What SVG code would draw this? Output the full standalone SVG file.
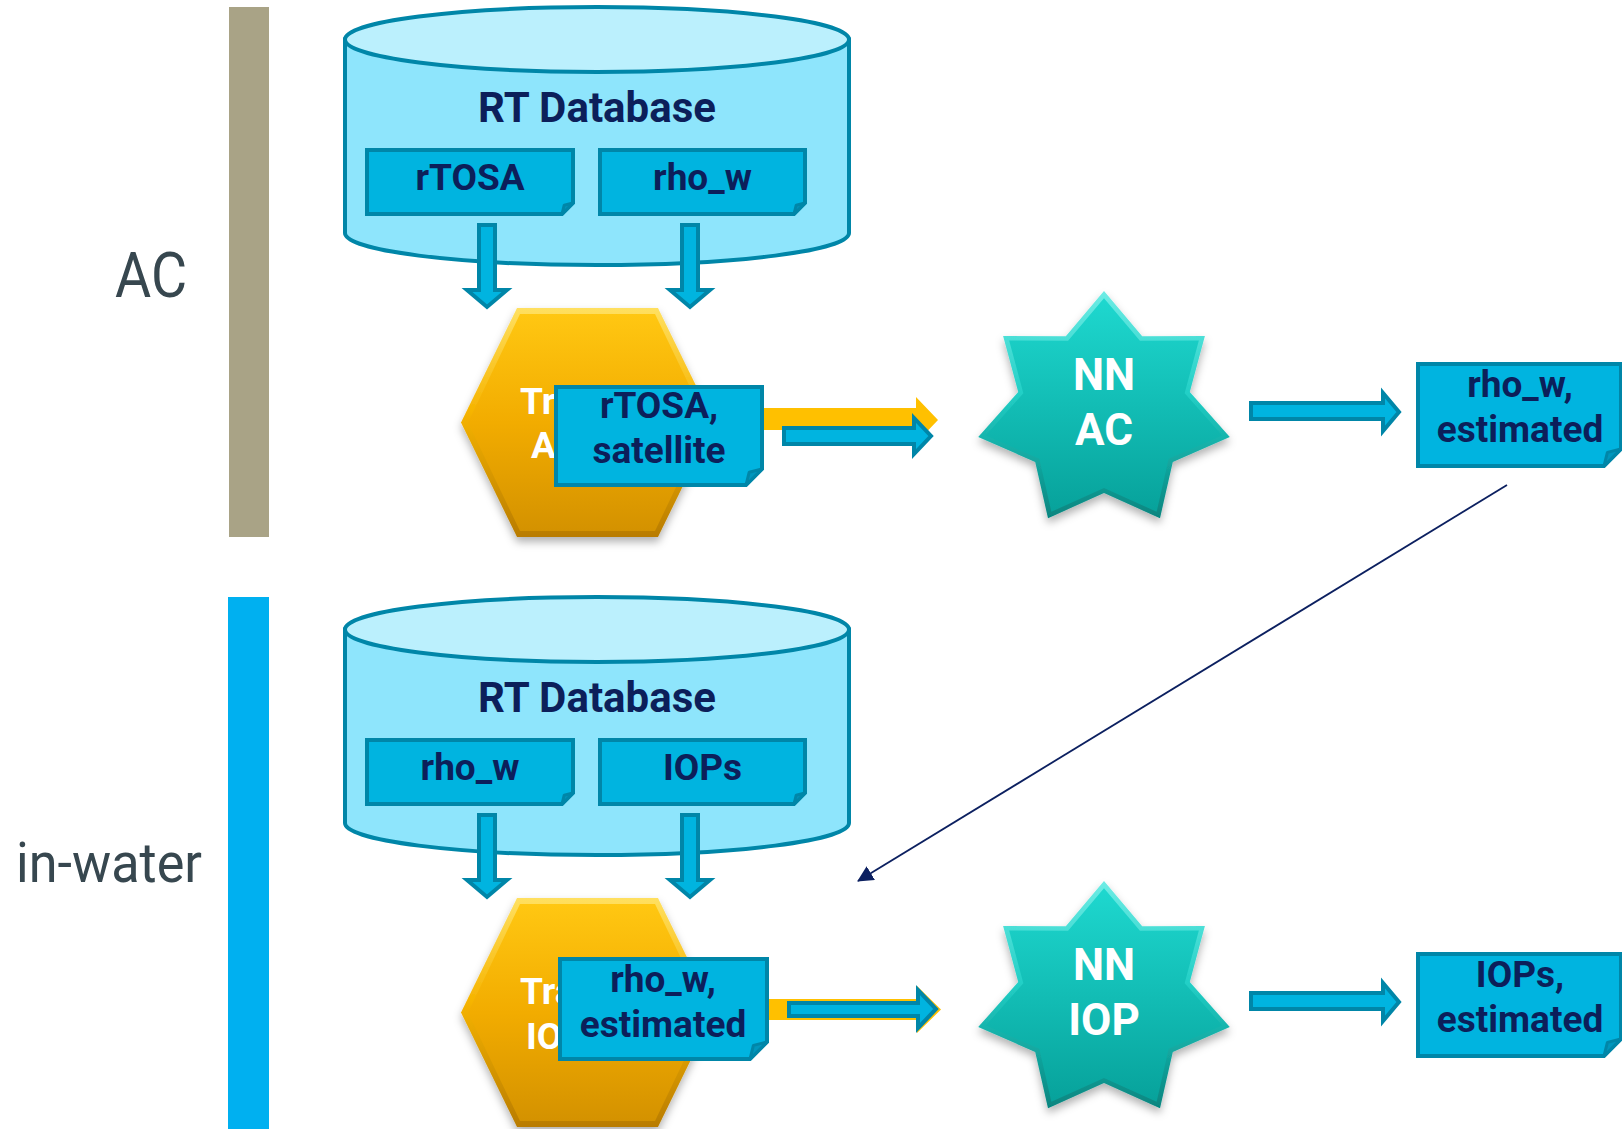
<svg xmlns="http://www.w3.org/2000/svg" width="1622" height="1129" viewBox="0 0 1622 1129">
  <defs>
    <style>
      .cyl-body { fill: #8ee5fc; stroke: #0086a8; stroke-width: 4; }
      .cyl-top { fill: #bbf0fd; stroke: #0086a8; stroke-width: 4; }
      .box { fill: #00b4e0; stroke: #0086a8; stroke-width: 4; stroke-linejoin: miter; }
      .fold { fill: #0096bd; stroke: #0086a8; stroke-width: 3; stroke-linejoin: round; }
      .barrow { fill: #00b4e0; stroke: #0086a8; stroke-width: 4; stroke-linejoin: miter; }
      .yarrow { fill: #ffc000; }
      .lbl { font-family: Roboto, "Liberation Sans", sans-serif; font-weight: bold; fill: #0c1f5a; text-anchor: middle; }
      .db-title { font-size: 42px; }
      .item { font-size: 37px; }
      .white { font-family: Roboto, "Liberation Sans", sans-serif; font-weight: bold; fill: #ffffff; }
      .hex-txt { font-size: 37px; }
      .star-txt { font-size: 44px; text-anchor: middle; }
      .lane { font-family: Roboto, "Liberation Sans", sans-serif; fill: #37474f; }
      .link { stroke: #0c2060; stroke-width: 1.8; fill: none; }
    </style>
    <linearGradient id="hexGrad" x1="0" y1="0" x2="0" y2="1">
      <stop offset="0" stop-color="#ffc712"/>
      <stop offset="0.5" stop-color="#f2ac00"/>
      <stop offset="1" stop-color="#d49200"/>
    </linearGradient>
    <linearGradient id="hexEdge" x1="0" y1="0" x2="0" y2="1">
      <stop offset="0" stop-color="#ffe060"/>
      <stop offset="0.45" stop-color="#f6b400"/>
      <stop offset="1" stop-color="#b97c00"/>
    </linearGradient>
    <linearGradient id="starGrad" x1="0" y1="0" x2="0" y2="1">
      <stop offset="0" stop-color="#1ed8cf"/>
      <stop offset="1" stop-color="#07a29b"/>
    </linearGradient>
    <linearGradient id="starEdge" x1="0" y1="0" x2="0" y2="1">
      <stop offset="0" stop-color="#6eece5"/>
      <stop offset="0.45" stop-color="#22cfc6"/>
      <stop offset="1" stop-color="#06857f"/>
    </linearGradient>
    <filter id="shadow" x="-20%" y="-20%" width="140%" height="150%">
      <feDropShadow dx="0" dy="5" stdDeviation="4" flood-color="#000000" flood-opacity="0.3"/>
    </filter>
    <polygon id="star7" points="0,-119.5 38.2,-74.3 100.9,-74.5 85.8,-18.4 125.8,26.6 68.8,51.4 56,107.7 0,82.5 -56,107.7 -68.8,51.4 -125.8,26.6 -85.8,-18.4 -100.9,-74.5 -38.2,-74.3"/>
    <marker id="head" viewBox="0 0 16 16" refX="15" refY="8" markerWidth="16" markerHeight="16" markerUnits="userSpaceOnUse" orient="auto">
      <path d="M0,0 L16,8 L0,16 Z" fill="#0c2060"/>
    </marker>
  </defs>

  <rect width="1622" height="1129" fill="#ffffff"/>

  <!-- lane markers -->
  <g id="lane-ac">
    <rect x="229" y="7" width="40" height="530" fill="#a9a386"/>
    <text class="lane" x="115" y="297" font-size="63" textLength="72" lengthAdjust="spacingAndGlyphs">AC</text>
  </g>
  <g id="lane-inwater">
    <rect x="228" y="597" width="41" height="532" fill="#00b0f0"/>
    <text class="lane" x="16" y="882" font-size="56" textLength="186" lengthAdjust="spacingAndGlyphs">in-water</text>
  </g>

  <!-- RT database, atmospheric correction -->
  <g id="db-ac">
    <path class="cyl-body" d="M345,39.5 V233 A252,32 0 0 0 849,233 V39.5 Z"/>
    <ellipse class="cyl-top" cx="597" cy="39.5" rx="252" ry="32.5"/>
    <text class="lbl db-title" x="597" y="122">RT Database</text>
    <g id="db-ac-rtosa">
      <path class="box" d="M367,150 H573 V203 L562,214 H367 Z"/>
      <path class="fold" d="M562,214 L564.2,205.2 L573,203 Z"/>
      <text class="lbl item" x="470" y="190">rTOSA</text>
    </g>
    <g id="db-ac-rhow">
      <path class="box" d="M600,150 H805 V203 L794,214 H600 Z"/>
      <path class="fold" d="M794,214 L796.2,205.2 L805,203 Z"/>
      <text class="lbl item" x="702.5" y="190">rho_w</text>
    </g>
  </g>

  <!-- RT database, in-water -->
  <g id="db-iop">
    <path class="cyl-body" d="M345,629.5 V823 A252,32 0 0 0 849,823 V629.5 Z"/>
    <ellipse class="cyl-top" cx="597" cy="629.5" rx="252" ry="32.5"/>
    <text class="lbl db-title" x="597" y="712">RT Database</text>
    <g id="db-iop-rhow">
      <path class="box" d="M367,740 H573 V793 L562,804 H367 Z"/>
      <path class="fold" d="M562,804 L564.2,795.2 L573,793 Z"/>
      <text class="lbl item" x="470" y="780">rho_w</text>
    </g>
    <g id="db-iop-iops">
      <path class="box" d="M600,740 H805 V793 L794,804 H600 Z"/>
      <path class="fold" d="M794,804 L796.2,795.2 L805,793 Z"/>
      <text class="lbl item" x="702.5" y="780">IOPs</text>
    </g>
  </g>

  <!-- training steps (bevelled hexagons) -->
  <g id="train-ac">
    <polygon points="517,308 658,308 714,422.5 658,537 517,537 461,422.5" fill="url(#hexEdge)" filter="url(#shadow)"/>
    <polygon points="520,314 655,314 707,422.5 655,531 520,531 468,422.5" fill="url(#hexGrad)"/>
    <text class="white hex-txt" x="520" y="414">Tr</text>
    <text class="white hex-txt" x="531" y="458">A</text>
  </g>
  <g id="train-iop">
    <polygon points="517,898 658,898 714,1012.5 658,1127 517,1127 461,1012.5" fill="url(#hexEdge)" filter="url(#shadow)"/>
    <polygon points="520,904 655,904 707,1012.5 655,1121 520,1121 468,1012.5" fill="url(#hexGrad)"/>
    <text class="white hex-txt" x="520" y="1004">Tra</text>
    <text class="white hex-txt" x="526" y="1049">IO</text>
  </g>

  <!-- inputs fed to the trained networks -->
  <g id="in-rtosa-sat">
    <path class="box" d="M556,387 H762 V469 L746,485 H556 Z"/>
    <path class="fold" d="M746,485 L749.2,472.2 L762,469 Z"/>
    <text class="lbl item" x="659" y="418">rTOSA,</text>
    <text class="lbl item" x="659" y="463">satellite</text>
  </g>
  <g id="in-rhow-est">
    <path class="box" d="M560,959 H767 V1042 L750,1059 H560 Z"/>
    <path class="fold" d="M750,1059 L753.4,1045.4 L767,1042 Z"/>
    <text class="lbl item" x="663" y="992">rho_w,</text>
    <text class="lbl item" x="663" y="1037">estimated</text>
  </g>

  <!-- neural networks (bevelled seven-point stars) -->
  <g id="nn-ac" transform="translate(1104,410.5)">
    <use href="#star7" fill="url(#starEdge)" filter="url(#shadow)"/>
    <use href="#star7" fill="url(#starGrad)" transform="scale(0.94)"/>
    <text class="white star-txt" x="0" y="-20.5">NN</text>
    <text class="white star-txt" x="0" y="34.5">AC</text>
  </g>
  <g id="nn-iop" transform="translate(1104,1000.5)">
    <use href="#star7" fill="url(#starEdge)" filter="url(#shadow)"/>
    <use href="#star7" fill="url(#starGrad)" transform="scale(0.94)"/>
    <text class="white star-txt" x="0" y="-20.5">NN</text>
    <text class="white star-txt" x="0" y="34.5">IOP</text>
  </g>

  <!-- network outputs -->
  <g id="out-rhow-est">
    <path class="box" d="M1418,364 H1621 V449 L1604,466 H1418 Z"/>
    <path class="fold" d="M1604,466 L1607.4,452.4 L1621,449 Z"/>
    <text class="lbl item" x="1520" y="397">rho_w,</text>
    <text class="lbl item" x="1520" y="442">estimated</text>
  </g>
  <g id="out-iops-est">
    <path class="box" d="M1418,954 H1621 V1039 L1604,1056 H1418 Z"/>
    <path class="fold" d="M1604,1056 L1607.4,1042.4 L1621,1039 Z"/>
    <text class="lbl item" x="1520" y="987">IOPs,</text>
    <text class="lbl item" x="1520" y="1032">estimated</text>
  </g>

  <!-- connectors -->
  <g id="connectors">
    <path class="barrow" d="M479,225 V290 H467 L487,307 L507,290 H495 V225 Z"/>
    <path class="barrow" d="M682,225 V290 H670 L690,307 L710,290 H698 V225 Z"/>
    <path class="barrow" d="M479,815 V880 H467 L487,897 L507,880 H495 V815 Z"/>
    <path class="barrow" d="M682,815 V880 H670 L690,897 L710,880 H698 V815 Z"/>

    <path class="yarrow" d="M764,408 H916 V397 L938,420 L916,443 V430 H764 Z"/>
    <path class="barrow" d="M784,428 H914 V418 L931,436 L914,454 V444 H784 Z"/>

    <path class="yarrow" d="M769,999 H917 V986 L941,1009.5 L917,1033 V1020 H769 Z"/>
    <path class="barrow" d="M789,1003 H918 V990 L936,1009 L918,1028 V1016 H789 Z"/>

    <path class="barrow" d="M1251,403 H1383 V393 L1399,412 L1383,431 V419 H1251 Z"/>
    <path class="barrow" d="M1251,993 H1383 V983 L1399,1002 L1383,1021 V1009 H1251 Z"/>

    <line class="link" x1="1507" y1="485" x2="858" y2="881" marker-end="url(#head)"/>
  </g>
</svg>
